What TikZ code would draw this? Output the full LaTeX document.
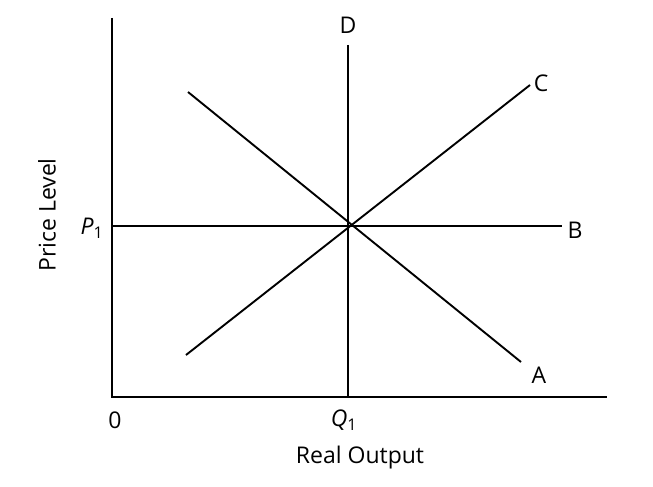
\documentclass[tikz,border=0pt]{standalone}
\usepackage{fontspec}
\setmainfont{Open Sans}
\begin{document}
\begin{tikzpicture}[x=1pt,y=-1pt,line width=1.9pt,
  lbl/.style={font=\fontsize{23}{27}\selectfont,inner sep=0pt}]
\useasboundingbox (0,0) rectangle (653,487);
\coordinate (top) at (112,18);
\coordinate (o) at (112,397);
\coordinate (xe) at (607,397);
\draw (top) -- (o) -- (xe);
\coordinate (dt) at (348,45);
\coordinate (db) at (348,397);
\draw (dt) -- (db);
\coordinate (bl) at (112,226);
\coordinate (br) at (562,226);
\draw (bl) -- (br);
\coordinate (c1) at (186,355);
\coordinate (c2) at (530,85);
\draw (c1) -- (c2);
\coordinate (a1) at (188,92);
\coordinate (a2) at (521,362);
\draw (a1) -- (a2);
\node[lbl] (D) at (348,25) {D};
\node[lbl] (C) at (541,83) {C};
\node[lbl] (B) at (575,230) {B};
\node[lbl] (A) at (539,375) {A};
\node[lbl] (P) at (92,228) {\textit{P}\textsubscript{1}};
\node[lbl] (Q) at (344,420) {\textit{Q}\textsubscript{1}};
\node[lbl] (zero) at (115,420) {0};
\node[lbl] (xl) at (360,458) {Real Output};
\node[lbl,rotate=90] (yl) at (47,215) {Price Level};
\end{tikzpicture}
\end{document}
